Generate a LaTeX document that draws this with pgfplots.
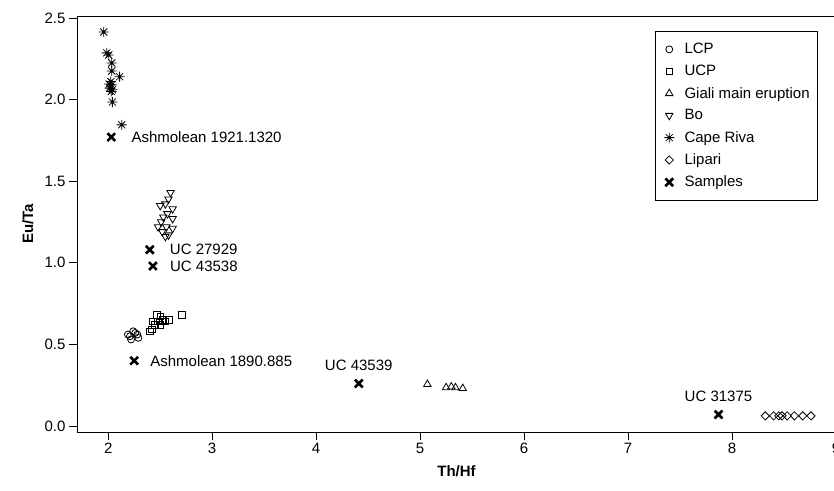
\documentclass[border=0pt]{standalone}
\usepackage{pgfplots}
\pgfplotsset{compat=1.18}
\usepackage{fontspec}
\setmainfont{Liberation Sans}
\pgfdeclareplotmark{eightstar}{%
 \pgfpathmoveto{\pgfqpoint{-\pgfplotmarksize}{0pt}}\pgfpathlineto{\pgfqpoint{\pgfplotmarksize}{0pt}}%
 \pgfpathmoveto{\pgfqpoint{0pt}{-\pgfplotmarksize}}\pgfpathlineto{\pgfqpoint{0pt}{\pgfplotmarksize}}%
 \pgfpathmoveto{\pgfqpoint{-0.7071\pgfplotmarksize}{-0.7071\pgfplotmarksize}}\pgfpathlineto{\pgfqpoint{0.7071\pgfplotmarksize}{0.7071\pgfplotmarksize}}%
 \pgfpathmoveto{\pgfqpoint{-0.7071\pgfplotmarksize}{0.7071\pgfplotmarksize}}\pgfpathlineto{\pgfqpoint{0.7071\pgfplotmarksize}{-0.7071\pgfplotmarksize}}%
 \pgfusepathqstroke}
\pgfplotstableread{
x y
1.957 2.414
1.986 2.286
2.005 2.273
2.034 2.224
2.034 2.175
2.110 2.140
2.034 2.090
2.014 2.070
2.040 2.060
2.030 2.050
2.010 2.095
2.025 2.110
2.040 1.985
2.130 1.845
}\caperiva
\pgfplotstableread{
x y
2.19 0.56
2.24 0.58
2.28 0.56
2.22 0.53
2.29 0.54
2.26 0.57
2.21 0.55
}\lcp
\pgfplotstableread{
x y
2.40 0.58
2.47 0.68
2.50 0.67
2.43 0.64
2.48 0.64
2.52 0.65
2.45 0.62
2.50 0.62
2.55 0.64
2.59 0.65
2.42 0.59
2.71 0.68
}\ucp
\pgfplotstableread{
x y
2.60 1.43
2.58 1.39
2.55 1.36
2.62 1.33
2.50 1.35
2.57 1.30
2.53 1.28
2.62 1.27
2.51 1.25
2.48 1.22
2.56 1.22
2.62 1.21
2.52 1.19
2.58 1.17
2.55 1.16
}\bo
\pgfplotstableread{
x y
5.07 0.255
5.25 0.235
5.30 0.240
5.34 0.235
5.41 0.230
}\giali
\pgfplotstableread{
x y
8.32 0.062
8.40 0.062
8.45 0.062
8.48 0.062
8.53 0.062
8.60 0.062
8.68 0.062
8.76 0.062
}\lipari
\pgfplotstableread{
x y
2.03 1.77
2.40 1.08
2.43 0.98
2.25 0.40
4.41 0.26
7.87 0.07
}\samples
\newcommand\lblfont{\fontsize{15bp}{17bp}\selectfont}
\begin{document}
\begin{tikzpicture}
\useasboundingbox (-77bp,-59bp) rectangle (757bp,432bp);
\begin{axis}[
  at={(0,0)}, anchor=south west,
  scale only axis, width=759bp, height=416bp,
  xmin=1.7, xmax=9.0, ymin=-0.037, ymax=2.512,
  axis line style={line width=0.9bp},
  xtick={2,3,4,5,6,7,8,9}, ytick={0,0.5,1,1.5,2,2.5},
  tick align=outside, major tick length=8bp,
  tick style={black, line width=0.8bp},
  xtick pos=lower, ytick pos=left,
  minor tick num=0,
  /pgf/number format/assume math mode=true,
  tick label style={font=\lblfont},
  yticklabel style={/pgf/number format/.cd, fixed, fixed zerofill, precision=1},
  xlabel={\bfseries Th/Hf}, ylabel={\bfseries Eu/Ta},
  xlabel style={at={(axis description cs:0.5,-0.0938)}, anchor=center, font=\lblfont},
  ylabel style={at={(axis description cs:-0.0646,0.5)}, anchor=center, font=\lblfont},
  legend style={at={(axis description cs:0.9763,0.964)}, anchor=north east,
    draw=black, line width=0.8bp, font=\lblfont,
    row sep=6bp, inner xsep=6bp, inner ysep=10bp},
  legend cell align=left,
  legend image code/.code={\path (0bp,0bp) (19bp,0bp); \draw[mark repeat=2,mark phase=2,#1] plot coordinates {(0bp,0bp) (7bp,0bp) (14bp,0bp)};},
  every axis plot/.append style={only marks, black, line width=0.8bp},
  clip=false,
]
\addplot[mark=o, mark size=3.5bp] table {\lcp};
\addlegendentry{LCP}
\addplot[mark=square, mark size=3.2bp] table {\ucp};
\addlegendentry{UCP}
\addplot[mark=triangle, mark size=4.3bp] table {\giali};
\addlegendentry{Giali main eruption}
\addplot[mark=triangle, mark size=4.3bp, mark options={rotate=180}] table {\bo};
\addlegendentry{Bo}
\addplot[mark=eightstar, mark size=5bp] table {\caperiva};
\addlegendentry{Cape Riva}
\addplot[mark=square, mark size=2.9bp, mark options={rotate=45}] table {\lipari};
\addlegendentry{Lipari}
\addplot[mark=x, mark size=5.5bp, line width=2.6bp] table {\samples};
\addlegendentry{Samples}
\node[anchor=west, inner sep=0pt, xshift=20bp, font=\lblfont] at (axis cs:2.03,1.77) {Ashmolean 1921.1320};
\node[anchor=west, inner sep=0pt, xshift=20bp, font=\lblfont] at (axis cs:2.40,1.08) {UC 27929};
\node[anchor=west, inner sep=0pt, xshift=17bp, font=\lblfont] at (axis cs:2.43,0.98) {UC 43538};
\node[anchor=west, inner sep=0pt, xshift=16bp, font=\lblfont] at (axis cs:2.25,0.40) {Ashmolean 1890.885};
\node[anchor=center, inner sep=0pt, yshift=18bp, font=\lblfont] at (axis cs:4.41,0.26) {UC 43539};
\node[anchor=center, inner sep=0pt, yshift=18bp, font=\lblfont] at (axis cs:7.87,0.07) {UC 31375};
\end{axis}
\end{tikzpicture}
\end{document}
